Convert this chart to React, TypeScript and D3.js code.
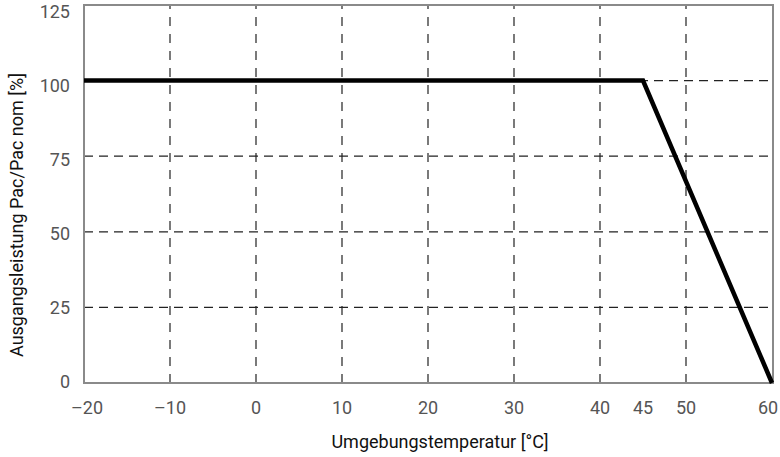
import React from "react";
import * as d3 from "d3";

const temps = [-20, 45, 60];
const power = [100, 100, 0];
const xTicks = [-20, -10, 0, 10, 20, 30, 40, 45, 50, 60];
const xGrid = [-10, 0, 10, 20, 30, 40, 50];
const yTicks = [0, 25, 50, 75, 100, 125];
const yGrid = [25, 50, 75, 100];

const W = 780, H = 457;
const m = { left: 84, right: 7, top: 5, bottom: 74 };
const FONT = "'Roboto', sans-serif";

export default function App() {
  const x = d3.scaleLinear().domain([-20, 60]).range([m.left, W - m.right - 1]);
  const y = d3.scaleLinear().domain([0, 125]).range([H - m.bottom, m.top]);
  const yLab = d3.scaleLinear().domain([0, 125]).range([381.5, 12]);
  const data = temps.map((t, i) => [t, power[i]] as [number, number]);
  const line = d3.line<[number, number]>().x(d => x(d[0])).y(d => y(d[1]));
  const x0 = m.left, x1 = W - m.right, y0 = H - m.bottom, y1 = m.top;
  return (
    <svg width={W} height={H} style={{ position: "absolute", left: 0, top: 0, background: "#fff" }}>
      {xGrid.map(v => (
        <line key={"gx" + v} x1={x(v)} x2={x(v)} y1={y0} y2={y1} stroke="#222" strokeWidth={1.2} strokeDasharray="9,8" />
      ))}
      {yGrid.map(v => (
        <line key={"gy" + v} x1={x0} x2={x1} y1={y(v)} y2={y(v)} stroke="#222" strokeWidth={1.2} strokeDasharray="9,6" />
      ))}
      <rect x={x0} y={y1} width={x1 - x0} height={y0 - y1} fill="none" stroke="#8a8a8a" strokeWidth={2} />
      <path d={line(data) || ""} fill="none" stroke="#000" strokeWidth={4.5} />
      {yTicks.map(v => (
        <text key={"ty" + v} x={70} y={yLab(v)} dy="0.35em" textAnchor="end" fontFamily={FONT} fontSize={18} fill="#555">{v}</text>
      ))}
      {xTicks.map(v => (
        <text key={"tx" + v} x={Math.min(x(v) + (v === -20 ? 3 : 0), W - 12)} y={414} textAnchor="middle" fontFamily={FONT} fontSize={18} fill="#555">{v < 0 ? "\u2013" + Math.abs(v) : v}</text>
      ))}
      <text x={440} y={448} textAnchor="middle" fontFamily={FONT} fontSize={18} fill="#111">Umgebungstemperatur [°C]</text>
      <text transform={`translate(23,215) rotate(-90)`} textAnchor="middle" fontFamily={FONT} fontSize={18} fill="#111">Ausgangsleistung Pac/Pac nom [%]</text>
    </svg>
  );
}
